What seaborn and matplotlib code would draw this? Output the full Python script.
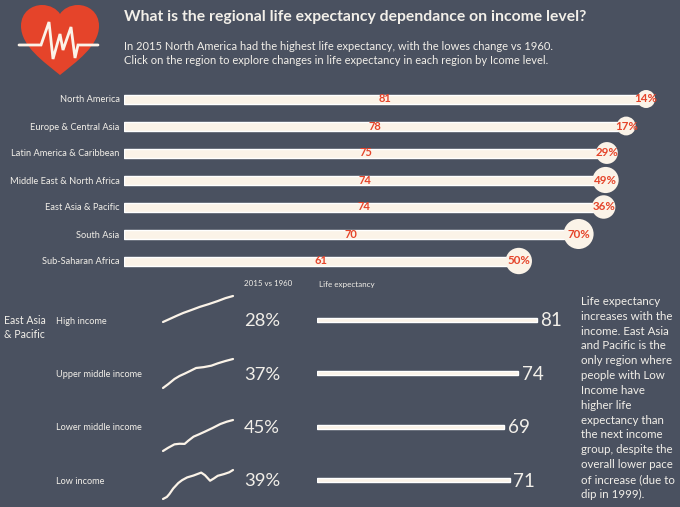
import numpy as np
import pandas as pd
import seaborn as sns
import matplotlib
matplotlib.use("Agg")
import matplotlib.pyplot as plt
from matplotlib.path import Path
from matplotlib.patches import PathPatch

# ---------- data ----------
regions = ["North America", "Europe & Central Asia", "Latin America & Caribbean",
           "Middle East & North Africa", "East Asia & Pacific", "South Asia", "Sub-Saharan Africa"]
region_life = [81.2, 78.1, 75.1, 74.9, 74.6, 70.7, 61.4]
region_life_labels = ["81", "78", "75", "74", "74", "70", "61"]
region_change = [14, 17, 29, 49, 36, 70, 50]

income_groups = ["High income", "Upper middle income", "Lower middle income", "Low income"]
income_change = [28, 37, 45, 39]
income_life = [81, 74, 69, 71]

high_years = [1960, 1966, 1971, 1976, 1982, 1989, 1996, 2003, 2009, 2015]
high_vals = [63, 65.4, 67.4, 69.3, 71.2, 73.5, 75.4, 77.5, 79.5, 81]
upper_years = [1960, 1964, 1969, 1973, 1977, 1981, 1986, 1992, 1998, 2003, 2009, 2015]
upper_vals = [54, 56.6, 60.2, 62.3, 63.9, 65.6, 67.8, 68.4, 69.4, 71, 72.6, 74]
lower_years = [1960, 1964, 1969, 1973, 1977, 1980, 1984, 1988, 1993, 1999, 2005, 2010, 2015]
lower_vals = [47.6, 49.8, 52.2, 52.6, 52.5, 54.8, 57.5, 59, 61, 63.5, 66.2, 67.8, 69]
low_years = [1960, 1963, 1965, 1968, 1972, 1975, 1979, 1984, 1990, 1993, 1997, 2000, 2003, 2008, 2012, 2015]
low_vals = [51, 52.4, 54.4, 58.2, 62, 64, 65.9, 67.2, 69.2, 67.4, 63.6, 65.2, 67, 68.2, 69.4, 71]

title = "What is the regional life expectancy dependance on income level?"
subtitle = ["In 2015 North America had the highest life expectancy, with the lowes change vs 1960.",
            "Click on the region to explore changes in life expectancy in each region by Icome level."]
note = ["Life expectancy", "increases with the", "income. East Asia", "and Pacific is the",
        "only region where", "people with Low", "Income have", "higher life",
        "expectancy than", "the next income", "group, despite the", "overall lower pace",
        "of increase (due to", "dip in 1999)."]

# ---------- style ----------
BG = "#4a5160"
CREAM = "#fbf3e8"
RED = "#e5442a"
TXT = "#f2efe9"
sns.set_theme(style="white")
plt.rcParams["font.family"] = ["Lato", "DejaVu Sans"]
W, H = 680, 507
fig = plt.figure(figsize=(W / 100, H / 100), dpi=100, facecolor=BG)


def px_axes(x0, y0, x1, y1):
    a = fig.add_axes([x0 / W, 1 - y1 / H, (x1 - x0) / W, (y1 - y0) / H])
    a.set_facecolor("none")
    a.patch.set_visible(False)
    return a


# overlay in pixel units for text and icon
ov = px_axes(0, 0, W, H)
ov.set_xlim(0, W)
ov.set_ylim(H, 0)
ov.axis("off")

# heart icon
verts = [(60, 75), (44, 62), (21, 46), (21, 26), (21, 12), (32, 5), (42, 5), (50, 5), (57, 9), (60, 14),
         (63, 9), (70, 5), (78, 5), (88, 5), (99, 12), (99, 26), (99, 46), (76, 62), (60, 75)]
codes = [Path.MOVETO] + [Path.CURVE4] * 18
ov.add_patch(PathPatch(Path(verts, codes), fc=RED, ec="none"))
ecg_x = [19, 41, 49, 53, 60, 63, 71, 75, 78, 98]
ecg_y = [45, 45, 22, 59, 34, 50, 27, 58, 45, 45]
ov.plot(ecg_x, ecg_y, color=CREAM, lw=2.0, solid_joinstyle="miter")

ov.text(124, 16.5, title, color=TXT, fontsize=11.35, fontweight="bold", va="center")
ov.text(124, 46, subtitle[0], color=TXT, fontsize=8.0, va="center")
ov.text(124, 61, subtitle[1], color=TXT, fontsize=8.0, va="center")

# ---------- top bars ----------
top_df = pd.DataFrame({"region": regions, "life": region_life, "change": region_change})
ax = px_axes(124, 85.5, W, 274.5)
sns.barplot(data=top_df, x="life", y="region", color=CREAM, width=1 / 3, saturation=1, ax=ax, zorder=1)
ax.set_xlim(0, 556 / 6.43)
ax.set_ylim(6.5, -0.5)
sns.despine(ax=ax, left=True, bottom=True)
ax.set_xticks([])
ax.tick_params(axis="y", length=0, pad=3.2, labelsize=6.7, labelcolor=TXT)
ax.bar_label(ax.containers[0], labels=region_life_labels, label_type="center",
             color=RED, fontsize=8, fontweight="bold", zorder=5)
sns.scatterplot(data=top_df, x="life", y="region", size="change", sizes=(168, 467), size_norm=(14, 70),
                color=CREAM, linewidth=0, legend=False, clip_on=False, ax=ax, zorder=2)
for v, c, y in zip(region_life, region_change, range(len(regions))):
    ax.text(v, y, f"{c}%", color=RED, fontsize=8.3, fontweight="bold", ha="center", va="center", zorder=6)
ax.set_xlabel("")
ax.set_ylabel("")

# ---------- bottom section ----------
ov.text(244, 284, "2015 vs 1960", color=TXT, fontsize=5.7, va="center")
ov.text(319, 284, "Life expectancy", color=TXT, fontsize=5.8, va="center")
ov.text(4, 320.5, "East Asia", color=TXT, fontsize=7.6, va="center")
ov.text(4, 334, "& Pacific", color=TXT, fontsize=7.6, va="center")

row_y = [320, 373.5, 427, 480.5]
for g, c, y in zip(income_groups, income_change, row_y):
    ov.text(56, y + 1, g, color=TXT, fontsize=6.6, va="center")
    ov.text(244, y + 1, f"{c}%", color=TXT, fontsize=13.2, va="center")

bot_df = pd.DataFrame({"group": income_groups, "life": income_life})
bx = px_axes(317, 293, W, 507)
sns.barplot(data=bot_df, x="life", y="group", color=CREAM, width=4 / 53.5, saturation=1, ax=bx)
bx.set_xlim(0, 363 / 2.716)
bx.set_ylim(3.5, -0.5)
bx.axis("off")
for y, v in enumerate(income_life):
    bx.annotate(str(v), (v, y), xytext=(2.6, -0.7), textcoords="offset points", color=TXT,
                fontsize=13.6, va="center", ha="left")

spark_series = [(high_years, high_vals, 296, 322), (upper_years, upper_vals, 359, 388),
                (lower_years, lower_vals, 420, 451), (low_years, low_vals, 470, 499)]
for yrs, vals, y0, y1 in spark_series:
    s = px_axes(163, y0, 233, y1)
    sns.lineplot(x=yrs, y=vals, color=CREAM, lw=1.6, ax=s, clip_on=False,
                 solid_capstyle="round", solid_joinstyle="round")
    s.set_xlim(1960, 2015)
    s.set_ylim(min(vals), max(vals))
    s.axis("off")

for i, line in enumerate(note):
    ov.text(581, 301.5 + i * 14.83, line, color=TXT, fontsize=8.3, va="center")

fig.savefig("out.png", dpi=100, facecolor=BG)
